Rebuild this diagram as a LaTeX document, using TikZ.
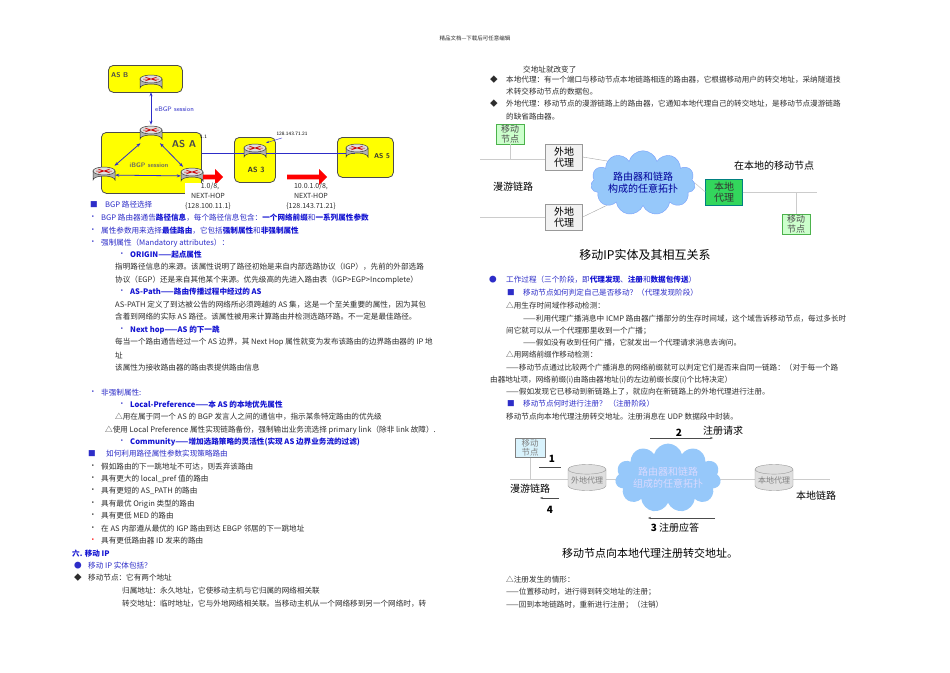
\documentclass[tikz,border=0pt]{standalone}
\usepackage{fontspec}
\setmainfont{Noto Sans CJK SC}
\usetikzlibrary{shapes.geometric,shapes.symbols,shapes.arrows,arrows.meta}
\definecolor{blu}{RGB}{45,45,200}
\definecolor{bblu}{RGB}{20,20,210}
\definecolor{tx}{RGB}{45,45,45}
\definecolor{asy}{RGB}{255,255,0}
\definecolor{cloudc}{RGB}{150,200,250}
\newcommand\B[1]{{\bfseries\color{bblu}#1}}
\tikzset{
 txt/.style={anchor=west,inner sep=0pt,font=\fontsize{7.6}{9}\selectfont,text=tx},
 btx/.style={txt,text=blu},
 asbox/.style={draw=black!70,fill=asy,rounded corners=5pt,line width=0.8pt},
 router/.style={draw=none,minimum width=22pt,minimum height=18pt,inner sep=0pt},
 ln/.style={draw=gray!40,line width=0.6pt},
 boxn/.style={draw=gray!80,fill=gray!10,align=center,inner sep=1pt,font=\fontsize{10}{11}\selectfont,minimum width=37pt,minimum height=26pt},
 cyl/.style={cylinder,shape border rotate=90,aspect=0.3,draw=gray!80,fill=gray!25,minimum width=38pt,minimum height=26pt,inner sep=0pt,text=gray,font=\fontsize{8}{9}\selectfont},
 redarr/.style={single arrow,fill=red,draw=none,minimum width=16pt,single arrow head extend=3pt,inner sep=1pt},
 bgp/.style={blu,line width=0.8pt,{Stealth[length=4pt]}-{Stealth[length=4pt]}}
}
\newcommand\rdraw[1]{\begin{scope}[shift={(#1.center)}]
\filldraw[fill=gray!60,draw=black!80,line width=0.5pt] (-11,-4) -- (-11,5) arc[start angle=180,end angle=360,x radius=11,y radius=4] -- (11,-4) -- cycle;
\filldraw[fill=gray!25,draw=black!80,line width=0.5pt] (0,-4) ellipse[x radius=11,y radius=4];
\draw[red!80!black,line width=0.5pt] (-6,-6)--(6,-2) (-6,-2)--(6,-6) (-8,-4)--(8,-4);
\end{scope}}
\begin{document}
\begin{tikzpicture}[x=1pt,y=-1pt]
\useasboundingbox (0,0) rectangle (950,672);
\fill[white] (0,0) rectangle (950,672);
\node[txt,anchor=center,font=\fontsize{5.5}{6}\selectfont] (hdr) at (475,38) {精品文档---下载后可任意编辑};

% ---------- BGP diagram ----------
\node[asbox,minimum width=74pt,minimum height=27pt,anchor=north west] (asb) at (108,65) {};
\node[anchor=west,inner sep=0pt,font=\bfseries\sffamily\fontsize{7}{8}\selectfont,text=black!70] (asbl) at (111,75) {AS B};
\node[asbox,minimum width=100pt,minimum height=61pt,anchor=north west] (asa) at (101,132) {};
\node[inner sep=0pt,font=\bfseries\sffamily\fontsize{10}{11}\selectfont,text=black!70] (asal) at (184,144) {AS A};
\node[asbox,minimum width=41pt,minimum height=45pt,anchor=north west] (as3) at (234,137) {};
\node[inner sep=0pt,font=\bfseries\sffamily\fontsize{7.5}{8}\selectfont,text=black!80] (as3l) at (256,170) {AS 3};
\node[asbox,minimum width=56pt,minimum height=40pt,anchor=north west] (as5) at (337,137) {};
\draw[blu,line width=0.8pt] (asa.east |- 0,153) -- (355,153);
\node[router] (rb) at (151,83) {}; \rdraw{rb}
\node[router] (ra) at (151,134) {}; \rdraw{ra}
\node[router] (rl) at (104,175) {}; \rdraw{rl}
\node[router] (rr) at (192,176) {}; \rdraw{rr}
\node[router] (r3) at (255,152) {}; \rdraw{r3}
\node[router] (r5) at (357,152) {}; \rdraw{r5}
\node[inner sep=0pt,font=\bfseries\sffamily\fontsize{7}{8}\selectfont,text=black!80] (as5l) at (382,156) {AS 5};
\draw[bgp] (rb) -- (ra);
\node[anchor=west,inner sep=0pt,font=\sffamily\fontsize{6.5}{7}\selectfont,text=blu] (ebgp) at (155,109) {eBGP session};
\draw[bgp] (ra) -- (rl);
\draw[bgp] (ra) -- (rr);
\draw[bgp] (rl) -- (rr);
\node[inner sep=0pt,font=\sffamily\bfseries\fontsize{6.5}{7}\selectfont,text=black!60] (ibgp) at (149,165) {iBGP session};
\node[anchor=west,inner sep=0pt,font=\sffamily\fontsize{5}{6}\selectfont] (ip1) at (200,137) {1.1};
\node[inner sep=0pt,font=\sffamily\fontsize{5}{6}\selectfont] (ip3) at (292,134) {128.143.71.21};
\draw[blu,-{Stealth[length=3pt]}] (ip3.south) ++(-10,2) -- (r3.north east);
\node[redarr,minimum height=20pt] (ra1) at (212,177) {};
\node[redarr,minimum height=40pt] (ra2) at (306,177) {};
\node[inner sep=0pt,align=center,font=\fontsize{7}{10}\selectfont,fill=white,text=tx] (nh1) at (208,196) {\phantom{1}1.0/8,\\NEXT-HOP\\\{128.100.11.1\}};
\node[inner sep=0pt,align=center,font=\fontsize{7}{10}\selectfont,text=tx] (nh2) at (311,196) {10.0.1.0/8,\\NEXT-HOP\\\{128.143.71.21\}};

% ---------- left text ----------
\node[btx] (l1m) at (90,205) {■}; \node[btx] (l1) at (105,205) {BGP 路径选择};
\node[btx] (l2m) at (89,218) {•}; \node[btx] (l2) at (101,218) {BGP 路由器通告\B{路径信息}，每个路径信息包含：\B{一个网络前缀}和\B{一系列属性参数}};
\node[btx] (l3m) at (89,231) {•}; \node[btx] (l3) at (101,231) {属性参数用来选择\B{最佳路由}，它包括\B{强制属性}和\B{非强制属性}};
\node[btx] (l4m) at (89,243) {•}; \node[btx] (l4) at (101,243) {强制属性（Mandatory attributes）：};
\node[btx] (l5m) at (118,255) {•}; \node[btx] (l5) at (130,255) {\B{ORIGIN——起点属性}};
\node[txt] (l6) at (115,267) {指明路径信息的来源。该属性说明了路径初始是来自内部选路协议（IGP），先前的外部选路};
\node[txt] (l7) at (115,280) {协议（EGP）还是来自其他某个来源。优先级高的先进入路由表（IGP>EGP>Incomplete）};
\node[btx] (l8m) at (118,292) {•}; \node[btx] (l8) at (130,292) {\B{AS-Path——路由传播过程中经过的 AS}};
\node[txt] (l9) at (115,305) {AS-PATH 定义了到达被公告的网络所必须跨越的 AS 集，这是一个至关重要的属性，因为其包};
\node[txt] (l10) at (115,317) {含着到网络的实际 AS 路径。该属性被用来计算路由并检测选路环路。不一定是最佳路径。};
\node[btx] (l11m) at (118,330) {•}; \node[btx] (l11) at (130,330) {\B{Next hop——AS 的下一跳}};
\node[txt] (l12) at (115,342) {每当一个路由通告经过一个 AS 边界，其 Next Hop 属性就变为发布该路由的边界路由器的 IP 地};
\node[txt] (l13) at (115,355) {址};
\node[txt] (l14) at (115,368) {该属性为接收路由器的路由表提供路由信息};
\node[btx] (l15m) at (89,393) {•}; \node[btx] (l15) at (101,393) {非强制属性:};
\node[btx] (l16m) at (118,405) {•}; \node[btx] (l16) at (130,405) {\B{Local-Preference——本 AS 的本地优先属性}};
\node[txt] (l17) at (115,417) {△用在属于同一个 AS 的 BGP 发言人之间的通信中，指示某条特定路由的优先级};
\node[txt] (l18) at (105,430) {△使用 Local Preference 属性实现链路备份，强制输出业务流选择 primary link（除非 link 故障）.};
\node[btx] (l19m) at (118,442) {•}; \node[btx] (l19) at (130,442) {\B{Community——增加选路策略的灵活性(实现 AS 边界业务流的过滤)}};
\node[btx] (l20m) at (88,454) {■}; \node[btx] (l20) at (106,454) {如何利用路径属性参数实现策略路由};
\node[txt] (b1m) at (89,467) {•}; \node[txt] (b1) at (101,467) {假如路由的下一跳地址不可达，则丢弃该路由};
\node[txt] (b2m) at (89,479) {•}; \node[txt] (b2) at (101,479) {具有更大的 local\_pref 值的路由};
\node[txt] (b3m) at (89,491) {•}; \node[txt] (b3) at (101,491) {具有更短的 AS\_PATH 的路由};
\node[txt] (b4m) at (89,504) {•}; \node[txt] (b4) at (101,504) {具有最优 Origin 类型的路由};
\node[txt] (b5m) at (89,516) {•}; \node[txt] (b5) at (101,516) {具有更低 MED 的路由};
\node[txt] (b6m) at (89,529) {•}; \node[txt] (b6) at (101,529) {在 AS 内部遵从最优的 IGP 路由到达 EBGP 邻居的下一跳地址};
\node[txt,text=red] (b7m) at (89,541) {•}; \node[txt] (b7) at (101,541) {具有更低路由器 ID 发来的路由};
\node[txt] (s6) at (72,554) {\B{六. 移动 IP}};
\node[btx] (s7m) at (74,566) {●}; \node[btx] (s7) at (88,566) {移动 IP 实体包括？};
\node[txt] (s8m) at (74,578) {◆}; \node[txt] (s8) at (88,578) {移动节点：它有两个地址};
\node[txt] (s9) at (122,591) {归属地址：永久地址，它使移动主机与它归属的网络相关联};
\node[txt] (s10) at (122,604) {转交地址：临时地址，它与外地网络相关联。当移动主机从一个网络移到另一个网络时，转};

% ---------- right text ----------
\node[txt] (r0) at (523,70) {交地址就改变了};
\node[txt] (r1m) at (490,80) {◆}; \node[txt] (r1) at (506,80) {本地代理：有一个端口与移动节点本地链路相连的路由器，它根据移动用户的转交地址，采纳隧道技};
\node[txt] (r2) at (506,92) {术转交移动节点的数据包。};
\node[txt] (r3m) at (490,104) {◆}; \node[txt] (r3) at (506,104) {外地代理：移动节点的漫游链路上的路由器，它通知本地代理自己的转交地址，是移动节点漫游链路};
\node[txt] (r4) at (506,117) {的缺省路由器。};

% ---------- Mobile IP diagram 1 ----------
\node[boxn,fill=green!20,draw=green!40!gray,minimum width=28pt,minimum height=18pt,font=\fontsize{9}{9.5}\selectfont,text=black!70] (mn1) at (510,134) {移动\\节点};
\node[boxn] (fa1) at (564,157) {外地\\代理};
\node[boxn] (fa2) at (564,217) {外地\\代理};
\node[cloud,cloud puffs=11,aspect=2.2,fill=cloudc,draw=cloudc!80!blue,minimum width=90pt,minimum height=42pt,align=center,font=\fontsize{10}{12}\selectfont,text=blue!60!black,inner sep=0pt] (cl1) at (643,183) {路由器和链路\\构成的任意拓扑};
\node[boxn,fill=green!60!teal!80,draw=teal,text=black!80] (ha1) at (724,192) {本地\\代理};
\node[boxn,fill=green!20,draw=green!40!gray,minimum width=28pt,minimum height=18pt,font=\fontsize{9}{9.5}\selectfont,text=black!70] (mn2) at (796,224) {移动\\节点};
\coordinate (c1) at (480,159); \coordinate (c2) at (480,217); \coordinate (c3) at (817,192);
\draw[ln] (c1) -- (fa1.west |- c1);
\draw[ln] (mn1.south) -- (mn1.south |- c1);
\draw[ln] (c2) -- (fa2.west);
\draw[gray!70] (fa1.east) -- (cl1.north west);
\draw[gray!70] (fa2.east) -- (cl1.south west);
\draw[ln] (cl1.east) -- (ha1.west);
\draw[ln] (ha1.east) -- (c3);
\draw[ln] (mn2.north |- c3) -- (mn2.north);
\node[inner sep=0pt,font=\fontsize{10}{11}\selectfont] (roam1) at (513,187) {漫游链路};
\node[inner sep=0pt,font=\fontsize{10}{11}\selectfont] (home1) at (774,166) {在本地的移动节点};
\node[inner sep=0pt,font=\fontsize{12}{13}\selectfont] (cap1) at (645,255) {移动IP实体及其相互关系};

% ---------- right text 2 ----------
\node[btx] (t1m) at (489,280) {●}; \node[btx] (t1) at (506,280) {工作过程（三个阶段，即\B{代理发现}、\B{注册}和\B{数据包传送}）};
\node[btx] (t2m) at (507,293) {■}; \node[btx] (t2) at (523,293) {移动节点如何判定自己是否移动？（代理发现阶段）};
\node[txt] (t3) at (506,306) {△用生存时间域作移动检测：};
\node[txt] (t4) at (523,319) {——利用代理广播消息中 ICMP 路由器广播部分的生存时间域，这个域告诉移动节点，每过多长时};
\node[txt] (t5) at (506,331) {间它就可以从一个代理那里收到一个广播；};
\node[txt] (t6) at (523,343) {——假如没有收到任何广播，它就发出一个代理请求消息去询问。};
\node[txt] (t7) at (506,355) {△用网络前缀作移动检测：};
\node[txt] (t8) at (506,368) {——移动节点通过比较两个广播消息的网络前缀就可以判定它们是否来自同一链路：（对于每一个路};
\node[txt] (t9) at (490,380) {由器地址项，网络前缀(i)由路由器地址(i)的左边前缀长度(i)个比特决定）};
\node[txt] (t10) at (506,392) {——假如发现它已移动到新链路上了，就应向在新链路上的外地代理进行注册。};
\node[btx] (t11m) at (507,404) {■}; \node[btx] (t11) at (523,404) {移动节点何时进行注册？ （注册阶段）};
\node[txt] (t12) at (506,417) {移动节点向本地代理注册转交地址。注册消息在 UDP 数据段中封装。};

% ---------- Mobile IP diagram 2 ----------
\coordinate (h1) at (510,479); \coordinate (h2) at (830,479);
\draw[ln] (h1) -- (h2);
\node[boxn,fill=cyan!15,draw=gray,minimum width=30pt,minimum height=19pt,font=\fontsize{8.5}{9}\selectfont,text=gray] (mn3) at (530,448) {移动\\节点};
\draw[ln] (mn3.south) -- (mn3.south |- h1);
\node[cyl] (fa3) at (587,480) {外地代理};
\node[cyl] (ha3) at (774,480) {本地代理};
\node[cloud,cloud puffs=11,aspect=2,fill=cloudc,draw=none,minimum width=98pt,minimum height=52pt,align=center,font=\fontsize{10}{12}\selectfont,text=white!85!blue,inner sep=0pt] (cl2) at (668,478) {路由器和链路\\组成的任意拓扑};
\node[inner sep=0pt,font=\bfseries\fontsize{10}{11}\selectfont] (n2) at (679,433) {2};
\node[inner sep=0pt,font=\fontsize{10}{11}\selectfont] (zq) at (723,431) {注册请求};
\coordinate (a2s) at (650,438); \coordinate (a2e) at (713,438);
\draw[black!70,line width=0.9pt,-{Stealth[length=3pt]}] (a2s) -- (a2e);
\node[inner sep=0pt,font=\bfseries\fontsize{10}{11}\selectfont] (n1) at (552,459) {1};
\coordinate (a1s) at (539,467); \coordinate (a1e) at (561,467);
\draw[black!70,line width=0.9pt] (a1s) -- (a1e);
\node[inner sep=0pt,font=\fontsize{10}{11}\selectfont] (roam2) at (530,489) {漫游链路};
\coordinate (a4s) at (559,498); \coordinate (a4e) at (540,498);
\draw[black!70,line width=0.9pt,-{Stealth[length=3pt]}] (a4s) -- (a4e);
\node[inner sep=0pt,font=\bfseries\fontsize{10}{11}\selectfont] (n4) at (550,510) {4};
\node[inner sep=0pt,font=\fontsize{10}{11}\selectfont] (home2) at (816,496) {本地链路};
\coordinate (a3s) at (715,518); \coordinate (a3e) at (648,518);
\draw[black!70,line width=0.9pt,-{Stealth[length=3pt]}] (a3s) -- (a3e);
\node[inner sep=0pt,font=\fontsize{10}{11}\selectfont] (n3) at (675,528) {\textbf{3} 注册应答};
\node[inner sep=0pt,font=\fontsize{11}{12}\selectfont] (cap2) at (650,553) {移动节点向本地代理注册转交地址。};
\node[txt] (u1) at (506,580) {△注册发生的情形：};
\node[txt] (u2) at (506,592) {——位置移动时，进行得到转交地址的注册；};
\node[txt] (u3) at (506,605) {——回到本地链路时，重新进行注册；（注销）};
\end{tikzpicture}
\end{document}
